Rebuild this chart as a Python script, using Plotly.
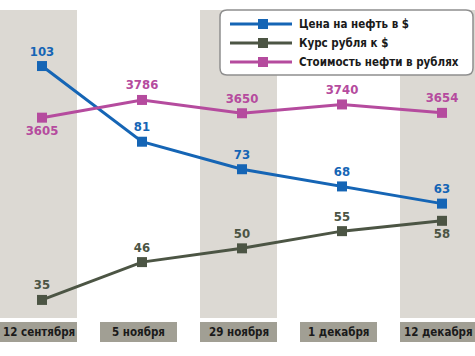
import plotly.graph_objects as go

# ---- data ----
dates = ["12 сентября", "5 ноября", "29 ноября", "1 декабря", "12 декабря"]
oil_usd = [103, 81, 73, 68, 63]
rub_rate = [35, 46, 50, 55, 58]
oil_rub = [3605, 3786, 3650, 3740, 3654]
series_names = ["Цена на нефть в $", "Курс рубля к $", "Стоимость нефти в рублях"]

W, H = 475, 356
BLUE = "#1565b5"
OLIVE = "#4c5544"
PINK = "#b54b9e"
BAND = "#dcd9d3"
LBOX = "#a19f94"
FONT = "Liberation Sans Narrow, DejaVu Sans Condensed, Arial Narrow, sans-serif"

def px(x):
    return x / W

def py(y):
    return 1 - y / H

xs = list(range(len(dates)))
fig = go.Figure()

fig.add_trace(go.Scatter(
    x=xs, y=oil_usd, name=series_names[0], mode="lines+markers+text",
    line=dict(color=BLUE, width=3), marker=dict(symbol="square", size=10, color=BLUE),
    text=[str(v) for v in oil_usd], textposition="top center",
    textfont=dict(family=FONT, size=13, color=BLUE, weight="bold"),
    yaxis="y", cliponaxis=False))

fig.add_trace(go.Scatter(
    x=xs, y=rub_rate, name=series_names[1], mode="lines+markers+text",
    line=dict(color=OLIVE, width=3), marker=dict(symbol="square", size=10, color=OLIVE),
    text=[str(v) for v in rub_rate],
    textposition=["top center", "top center", "top center", "top center", "bottom center"],
    textfont=dict(family=FONT, size=13, color=OLIVE, weight="bold"),
    yaxis="y", cliponaxis=False))

fig.add_trace(go.Scatter(
    x=xs, y=oil_rub, name=series_names[2], mode="lines+markers+text",
    line=dict(color=PINK, width=3), marker=dict(symbol="square", size=10, color=PINK),
    text=[str(v) for v in oil_rub],
    textposition=["bottom center", "top center", "top center", "top center", "top center"],
    textfont=dict(family=FONT, size=13, color=PINK, weight="bold"),
    yaxis="y2", cliponaxis=False))

shapes = []
annotations = []
# background bands
for i in xs:
    if i % 2 == 0:
        shapes.append(dict(type="rect", xref="x", yref="paper", x0=i - 0.42, x1=i + 0.35,
                           y0=py(318), y1=py(10), fillcolor=BAND, line=dict(width=0), layer="below"))
# label boxes
for i, d in zip(xs, dates):
    shapes.append(dict(type="rect", xref="x", yref="paper", x0=i - 0.42, x1=i + 0.35,
                       y0=py(342), y1=py(322), fillcolor=LBOX, line=dict(width=0), layer="below"))
    annotations.append(dict(x=i - 0.035, y=py(332), xref="x", yref="paper", text=d, showarrow=False,
                            font=dict(family=FONT, size=11.5, color="#1a1a1a", weight="bold"),
                            xanchor="center", yanchor="middle"))

# legend box with rounded corners
x0, x1, y0, y1, r = 220, 473, 10, 75, 7
path = (f"M {px(x0 + r)},{py(y0)} L {px(x1 - r)},{py(y0)} Q {px(x1)},{py(y0)} {px(x1)},{py(y0 + r)} "
        f"L {px(x1)},{py(y1 - r)} Q {px(x1)},{py(y1)} {px(x1 - r)},{py(y1)} "
        f"L {px(x0 + r)},{py(y1)} Q {px(x0)},{py(y1)} {px(x0)},{py(y1 - r)} "
        f"L {px(x0)},{py(y0 + r)} Q {px(x0)},{py(y0)} {px(x0 + r)},{py(y0)} Z")
shapes.append(dict(type="path", xref="paper", yref="paper", path=path,
                   fillcolor="white", line=dict(color="#8f8f8f", width=1.5), layer="above"))
for name, col, yy in zip(series_names, [BLUE, OLIVE, PINK], [24, 43, 62]):
    shapes.append(dict(type="line", xref="paper", yref="paper", x0=px(230), x1=px(292),
                       y0=py(yy), y1=py(yy), line=dict(color=col, width=3), layer="above"))
    shapes.append(dict(type="rect", xref="paper", yref="paper", x0=px(258), x1=px(268),
                       y0=py(yy + 5), y1=py(yy - 5), fillcolor=col, line=dict(width=0), layer="above"))
    annotations.append(dict(x=px(297), y=py(yy), xref="paper", yref="paper", text=name, showarrow=False,
                            font=dict(family=FONT, size=11.5, color="#1a1a1a", weight="bold"),
                            xanchor="left", yanchor="middle"))

fig.update_layout(
    width=W, height=H, margin=dict(l=0, r=0, t=0, b=0),
    paper_bgcolor="white", plot_bgcolor="white", showlegend=False,
    xaxis=dict(range=[-0.42, 4.33], visible=False, fixedrange=True),
    yaxis=dict(range=[18.7, 122.2], visible=False),
    yaxis2=dict(range=[1168, 4808], visible=False, overlaying="y", side="right"),
    shapes=shapes, annotations=annotations,
)

fig.write_html("out.html", config={"displayModeBar": False})

# remove default page margin so the figure sits at the window's top-left corner
with open("out.html", encoding="utf-8") as f:
    html = f.read()
html = html.replace("<body>", '<body style="margin:0;padding:0;overflow:hidden">', 1)
with open("out.html", "w", encoding="utf-8") as f:
    f.write(html)
